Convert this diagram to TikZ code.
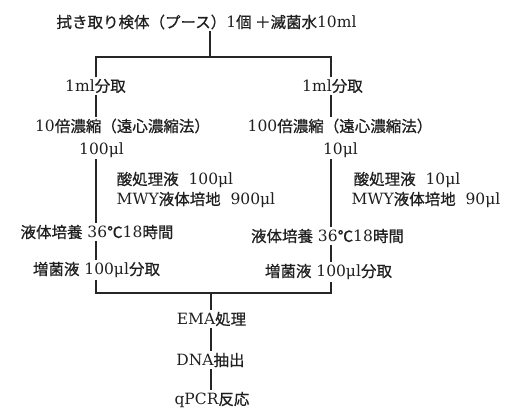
\documentclass[tikz,border=0pt]{standalone}
\usepackage{fontspec}
\setmainfont{DejaVu Serif}
\newfontfamily\cjk{Noto Sans CJK JP}[FakeBold=0.7]
\newcommand\J[1]{{\cjk #1}}
\begin{document}
\begin{tikzpicture}[x=1pt,y=-1pt,
  lbl/.style={inner sep=1.5pt, text=black!88, font=\fontsize{15.5}{17}\selectfont},
  conn/.style={draw=black!85, line width=1.1pt}]
\useasboundingbox (0,0) rectangle (529,410);
% axes
\coordinate (aL) at (96,0);
\coordinate (aR) at (331,0);
\coordinate (aC) at (210,0);
% nodes
\node[lbl] (title) at (206.5,22) {\J{拭き取り検体（プース）}1\J{個 ＋滅菌水}10ml};
\node[lbl] (mlL) at (95.5,86) {1ml\J{分取}};
\node[lbl] (mlR) at (332.5,86) {1ml\J{分取}};
\node[lbl] (concL) at (122.5,126) {10\J{倍濃縮（遠心濃縮法）}};
\node[lbl] (concR) at (340,126) {100\J{倍濃縮（遠心濃縮法）}};
\node[lbl] (volL) at (101.5,150) {100μl};
\node[lbl] (volR) at (340.5,150) {10μl};
\node[lbl,anchor=west] (acidL) at (115,180) {\J{酸処理液}\ \ 100μl};
\node[lbl,anchor=west] (mwyL) at (115,200) {MWY\J{液体培地}\ \ 900μl};
\node[lbl,anchor=west] (acidR) at (352,180) {\J{酸処理液}\ \ 10μl};
\node[lbl,anchor=west] (mwyR) at (350,200) {MWY\J{液体培地}\ \ 90μl};
\node[lbl] (cultL) at (97,232) {\J{液体培養} 36\J{℃}18\J{時間}};
\node[lbl] (cultR) at (327.5,236) {\J{液体培養} 36\J{℃}18\J{時間}};
\node[lbl] (enrL) at (96.5,270) {\J{増菌液} 100μl\J{分取}};
\node[lbl] (enrR) at (328.5,272) {\J{増菌液} 100μl\J{分取}};
\node[lbl] (ema) at (211.5,319) {EMA\J{処理}};
\node[lbl] (dna) at (210.5,360) {DNA\J{抽出}};
\node[lbl] (qpcr) at (212,400) {qPCR\J{反応}};
% junctions
\coordinate (jC) at (210,57);
\coordinate (jL) at (96,57);
\coordinate (jR) at (331,57);
\coordinate (kL) at (96,293);
\coordinate (kR) at (331,293);
\coordinate (kC) at (211,293);
% connectors
\draw[conn] (title.south -| jC) -- (jC);
\draw[conn] (mlL.north -| aL) -- (jL) -- (jR) -- (mlR.north -| aR);
\draw[conn] (mlL.south -| aL) -- (concL.north -| aL);
\draw[conn] (mlR.south -| aR) -- (concR.north -| aR);
\draw[conn] (volL.south -| aL) -- (cultL.north -| aL);
\draw[conn] (volR.south -| aR) -- (cultR.north -| aR);
\draw[conn] (cultL.south -| aL) -- (enrL.north -| aL);
\draw[conn] (cultR.south -| aR) -- (enrR.north -| aR);
\draw[conn] (enrL.south -| aL) -- (kL) -- (kR) -- (enrR.south -| aR);
\draw[conn] (kC) -- (ema.north -| kC);
\draw[conn] (ema.south -| kC) -- (dna.north -| kC);
\draw[conn] (dna.south -| kC) -- (qpcr.north -| kC);
\end{tikzpicture}
\end{document}
